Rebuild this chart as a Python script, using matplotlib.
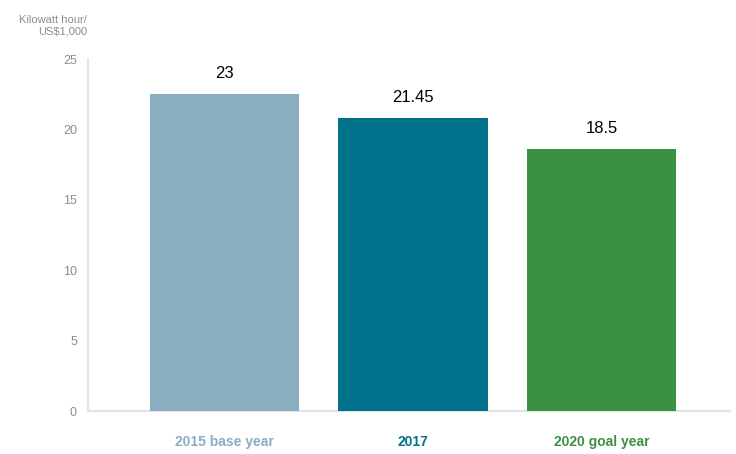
import numpy as np
import matplotlib.pyplot as plt
import matplotlib.patheffects as pe

plt.rcParams['font.family'] = ['Liberation Sans', 'DejaVu Sans']

categories = ["2015 base year", "2017", "2020 goal year"]
heights = [22.54, 20.83, 18.61]  # bar heights as drawn
value_labels = ["23", "21.45", "18.5"]
colors = ["#8badc0", "#00728c", "#3b9143"]

fig = plt.figure(figsize=(7.36, 4.54), dpi=100)
ax = fig.add_axes([0.1196, 0.0947, 0.8724, 0.7753])

x = np.arange(len(categories))
bars = ax.bar(x, heights, width=0.79, color=colors, zorder=3)
for b in bars:
    b.set_path_effects([pe.SimplePatchShadow(offset=(0, -2), shadow_rgbFace='#b0b0b0', alpha=0.35), pe.Normal()])

for b, lab in zip(bars, value_labels):
    ax.annotate(lab, (b.get_x() + b.get_width() / 2, b.get_height()),
                xytext=(0, 9), textcoords="offset points",
                ha="center", va="bottom", fontsize=12, color="black")

ax.set_xlim(-0.722, 2.68)
ax.set_ylim(0, 25)
ax.set_yticks([0, 5, 10, 15, 20, 25])
ax.tick_params(axis="y", length=0, pad=8, labelsize=9, labelcolor="#8c8c8c")
ax.tick_params(axis="x", length=0, pad=17)
ax.set_xticks(x)
ax.set_xticklabels(categories, fontsize=10, fontweight="bold")
for t, c in zip(ax.get_xticklabels(), colors):
    t.set_color(c)

for s in ["top", "right"]:
    ax.spines[s].set_visible(False)
for s in ["left", "bottom"]:
    ax.spines[s].set_color("#e2e2e2")
    ax.spines[s].set_linewidth(1.5)

fig.text(0.118, 0.968, "Kilowatt hour/\nUS$1,000", ha="right", va="top",
         fontsize=8, color="#8c8c8c", linespacing=1.25)

fig.savefig("out.png", dpi=100)
